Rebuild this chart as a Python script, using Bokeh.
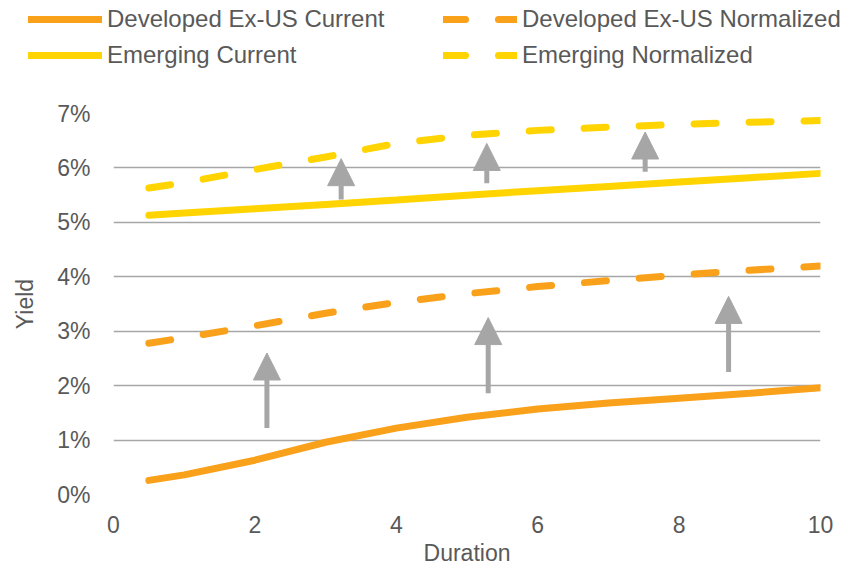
from bokeh.plotting import figure
from bokeh.models import (ColumnDataSource, Legend, LegendItem, Arrow, NormalHead,
                          FixedTicker, PrintfTickFormatter, Range1d)
from bokeh.embed import file_html
from bokeh.resources import INLINE

# Yield curves by duration (yield in %)
duration = [0.5, 1, 2, 3, 4, 5, 6, 7, 8, 9, 10]
dev_current = [0.26, 0.36, 0.63, 0.96, 1.22, 1.42, 1.57, 1.68, 1.77, 1.86, 1.96]
dev_normalized = [2.78, 2.88, 3.10, 3.33, 3.53, 3.69, 3.82, 3.93, 4.03, 4.12, 4.20]
em_current = [5.13, 5.17, 5.25, 5.33, 5.41, 5.50, 5.58, 5.66, 5.74, 5.82, 5.90]
em_normalized = [5.63, 5.73, 5.97, 6.20, 6.45, 6.60, 6.69, 6.75, 6.80, 6.84, 6.87]

# Upward arrows marking the move from current to normalized yields
arrow_x = [2.17, 5.30, 8.70, 3.22, 5.28, 7.52]
arrow_from = [1.22, 1.86, 2.25, 5.42, 5.72, 5.93]
arrow_to = [2.60, 3.25, 3.64, 6.17, 6.45, 6.66]

x_ticks = [0, 2, 4, 6, 8, 10]
y_ticks = [0, 1, 2, 3, 4, 5, 6, 7]

ORANGE = "#F9A11B"
YELLOW = "#FFD400"
GREY = "#A6A6A6"
TEXT = "#595959"
FONT = "Liberation Sans"
LW = 7
DASH = "22 33"

# ---- main chart -------------------------------------------------------------
p = figure(width=859, height=478, output_backend="svg", toolbar_location=None,
           x_range=Range1d(0, 10), y_range=Range1d(0, 7),
           min_border_left=113, min_border_right=39, min_border_top=23,
           min_border_bottom=72)
p.outline_line_color = None

for ax in (p.xaxis[0], p.yaxis[0]):
    ax.axis_line_color = None
    ax.major_tick_line_color = None
    ax.minor_tick_line_color = None
    ax.major_label_text_font = FONT
    ax.major_label_text_font_size = "23px"
    ax.major_label_text_color = TEXT
    ax.axis_label_text_font = FONT
    ax.axis_label_text_font_size = "23px"
    ax.axis_label_text_color = TEXT
    ax.axis_label_text_font_style = "normal"

p.xaxis.ticker = FixedTicker(ticks=x_ticks)
p.yaxis.ticker = FixedTicker(ticks=y_ticks)
p.yaxis.formatter = PrintfTickFormatter(format="%d%%")
p.xaxis.axis_label = "Duration"
p.yaxis.axis_label = "Yield"
p.xaxis.major_label_standoff = 15
p.yaxis.major_label_standoff = 17
p.xaxis.axis_label_standoff = 4
p.yaxis.axis_label_standoff = 16

p.xgrid.grid_line_color = None
p.ygrid.grid_line_color = GREY
p.ygrid.grid_line_width = 1.5

src = ColumnDataSource(dict(x=duration, dc=dev_current, dn=dev_normalized,
                            ec=em_current, en=em_normalized))
p.line("x", "dc", source=src, line_color=ORANGE, line_width=LW, line_cap="round")
p.line("x", "dn", source=src, line_color=ORANGE, line_width=LW, line_cap="round",
       line_dash=DASH)
p.line("x", "ec", source=src, line_color=YELLOW, line_width=LW, line_cap="round")
p.line("x", "en", source=src, line_color=YELLOW, line_width=LW, line_cap="round",
       line_dash=DASH)

asrc = ColumnDataSource(dict(x=arrow_x, y0=arrow_from, y1=arrow_to))
p.add_layout(Arrow(x_start="x", y_start="y0", x_end="x", y_end="y1", source=asrc,
                   line_color=GREY, line_width=5,
                   end=NormalHead(size=27, fill_color=GREY, line_color=GREY, line_width=1)))

# ---- legend strip above the chart ---------------------------------------------
top = figure(width=859, height=90, output_backend="svg", toolbar_location=None,
             x_range=Range1d(0, 1), y_range=Range1d(0, 1),
             x_axis_location=None, y_axis_location=None, min_border=0)
top.outline_line_color = None
top.grid.grid_line_color = None

# off-range placeholder point so each key renderer has a style to draw
key_src = ColumnDataSource(dict(x=[5], y=[5]))
k_dc = top.line("x", "y", source=key_src, line_color=ORANGE, line_width=LW, line_cap="round")
k_ec = top.line("x", "y", source=key_src, line_color=YELLOW, line_width=LW, line_cap="round")
k_dn = top.line("x", "y", source=key_src, line_color=ORANGE, line_width=LW, line_cap="round",
                line_dash=DASH)
k_en = top.line("x", "y", source=key_src, line_color=YELLOW, line_width=LW, line_cap="round",
                line_dash=DASH)


def make_legend(items, x, y):
    return Legend(items=items, location=(x, y), orientation="vertical",
                  glyph_width=74, glyph_height=28, label_height=28,
                  label_standoff=5, spacing=8, padding=0, margin=0,
                  label_text_font=FONT, label_text_font_size="24px",
                  label_text_color=TEXT, border_line_color=None,
                  background_fill_alpha=0)


top.add_layout(make_legend([LegendItem(label="Developed Ex-US Current", renderers=[k_dc]),
                            LegendItem(label="Emerging Current", renderers=[k_ec])],
                           28, 21), "center")
top.add_layout(make_legend([LegendItem(label="Developed Ex-US Normalized", renderers=[k_dn]),
                            LegendItem(label="Emerging Normalized", renderers=[k_en])],
                           443, 21), "center")

open("out.html", "w").write(file_html([top, p], INLINE))
